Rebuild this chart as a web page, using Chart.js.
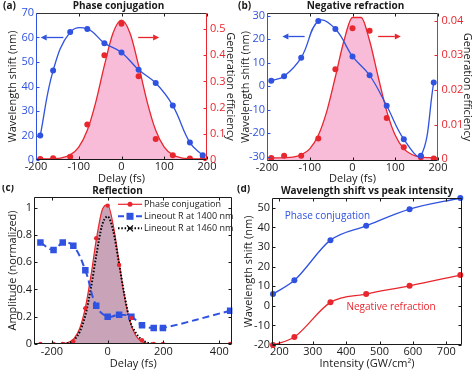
<!DOCTYPE html>
<html><head><meta charset="utf-8">
<script src="https://cdn.jsdelivr.net/npm/chart.js@4.4.1/dist/chart.umd.min.js"></script>
<style>
html,body{margin:0;padding:0;background:#fff;width:474px;height:378px;overflow:hidden}
canvas{position:absolute}
</style></head><body>
<canvas id="ca" style="left:0;top:0" width="237" height="185"></canvas>
<canvas id="cb" style="left:237px;top:0" width="237" height="185"></canvas>
<canvas id="cc" style="left:0;top:185px" width="237" height="193"></canvas>
<canvas id="cd" style="left:237px;top:185px" width="237" height="193"></canvas>
<script>
// ---------- data ----------
const delayA = [-190,-160,-120,-80,-40,0,40,80,120,160,190];
const shiftA = [20,46.5,62.2,63.5,57.7,53.9,46.8,41.4,32.2,17.1,11.9];
const effA   = [0.003,0.006,0.012,0.135,0.40,0.52,0.32,0.08,0.018,0.005,0.003];
const fitDelay = [-200,-180,-160,-140,-120,-100,-80,-60,-40,-20,0,20,40,60,80,100,120,140,160,180,200];
const fitEffA  = [0.004,0.004,0.005,0.008,0.019,0.049,0.113,0.222,0.361,0.484,0.534,0.484,0.361,0.222,0.113,0.049,0.019,0.008,0.005,0.004,0.004];

const delayB = [-190,-160,-120,-80,-40,0,40,80,120,160,190];
const shiftB = [2.3,4.2,12.1,27.7,24.3,12.6,4.6,-8.4,-22.6,-29.7,1.5];
const effB   = [0.0004,0.001,0.001,0.006,0.026,0.0378,0.0371,0.0119,0.0035,0.0006,0.0002];
const fitEffB = [0.0004,0.0004,0.00045,0.0006,0.0013,0.003,0.0069,0.0139,0.0238,0.0342,0.0409,0.0409,0.0342,0.0238,0.0139,0.0069,0.003,0.0013,0.0006,0.00045,0.0004];

const delayC  = [-241,-194,-161,-123,-80,-41,0,41,85,123,165,198,439];
const ampPC   = [0,0,0,0.02,0.263,0.776,1.015,0.58,0.19,0.027,0,0,0];
const amp1400 = [0.744,0.69,0.744,0.72,0.54,0.28,0.20,0.215,0.20,0.137,0.117,0.117,0.244];
const fitDelayC = [-264,-200,-160,-140,-120,-100,-80,-60,-40,-20,0,20,40,60,80,100,120,140,160,200,447];
const fitAmpPC  = [0,0,0.003,0.012,0.042,0.116,0.267,0.501,0.774,0.981,1.021,0.872,0.611,0.351,0.166,0.064,0.02,0.005,0.001,0,0];
const amp1460   = [0,0,0.002,0.008,0.03,0.09,0.21,0.41,0.66,0.87,0.935,0.83,0.6,0.36,0.17,0.085,0.035,0.012,0.003,0,0];

const intensity = [181,245,353,460,590,742];
const shiftPC   = [6.0,13.0,33.5,40.8,49.3,55];
const shiftNR   = [-20,-15.9,1.75,6.0,10.2,15.7];

// ---------- style ----------
const FONT = "'Open Sans','Noto Sans',sans-serif";
const BLUE = '#2f52e0', RED = '#e8262d', PINK = '#f8bcd8', MAUVE = '#c9a4b9', INK = '#1a1a1a';
const TICK = 11, LAB = 11;
const pts = (xs, ys) => xs.map((x, i) => ({x, y: ys[i]}));
const fmt = v => String(Math.round(v * 10000) / 10000);

function axis(o) {
  return {
    type: 'linear', axis: o.axis, position: o.pos, min: o.min, max: o.max,
    grid: {display: false, drawTicks: false}, border: {display: false},
    ticks: {stepSize: o.step, includeBounds: false, autoSkip: false, maxRotation: 0,
            padding: o.pad, color: o.color || INK, font: {family: FONT, size: TICK},
            callback: o.cb || fmt},
    title: o.title ? {display: true, text: o.title, color: INK, font: {family: FONT, size: LAB},
                      padding: o.tpad} : {display: false},
    afterFit: s => { if (o.pos === 'bottom') s.height = o.size; else s.width = o.size; }
  };
}

const frame = {
  id: 'frame',
  afterDatasetsDraw(chart, args, o) {
    if (!o || !o.box) return;
    const {ctx, chartArea: a, scales} = chart;
    ctx.save();
    const line = (x1, y1, x2, y2, c, w) => {
      ctx.strokeStyle = c; ctx.lineWidth = w || 1; ctx.setLineDash([]);
      ctx.beginPath(); ctx.moveTo(x1, y1); ctx.lineTo(x2, y2); ctx.stroke();
    };
    const l = Math.round(a.left) + 0.5, r = Math.round(a.right) - 0.5,
          t = Math.round(a.top) + 0.5, b = Math.round(a.bottom) - 0.5, L = 3;
    (o.ticks || []).forEach(d => {
      const s = scales[d.id];
      s.ticks.forEach(tk => {
        const p = Math.round(s.getPixelForValue(tk.value)) + 0.5;
        d.sides.forEach(side => {
          if (side === 'bottom') line(p, b, p, b - L, d.color);
          if (side === 'top') line(p, t, p, t + L, d.color);
          if (side === 'left') line(l, p, l + L, p, d.color);
          if (side === 'right') line(r, p, r - L, p, d.color);
        });
      });
    });
    const bx = o.box;
    line(l, t, r, t, bx.top); line(l, b, r, b, bx.bottom);
    line(l, t, l, b, bx.left); line(r, t, r, b, bx.right);
    // panel tag
    if (o.tag) {
      ctx.fillStyle = INK; ctx.font = "bold 10px " + FONT;
      ctx.textAlign = 'left'; ctx.textBaseline = 'middle';
      ctx.fillText(o.tag, o.tagX, o.tagY);
    }
    // arrows (data coordinates)
    (o.arrows || []).forEach(ar => {
      const xs = scales.x, ys = scales[ar.yid || 'y'];
      const X1 = xs.getPixelForValue(ar.from), X2 = xs.getPixelForValue(ar.to);
      const Y = Math.round(ys.getPixelForValue(ar.y)) + 0.5;
      const dir = Math.sign(X2 - X1), hl = 6, hw = 3;
      line(X1, Y, X2 - dir * hl, Y, ar.color, 1.3);
      ctx.fillStyle = ar.color; ctx.beginPath();
      ctx.moveTo(X2, Y); ctx.lineTo(X2 - dir * hl, Y - hw); ctx.lineTo(X2 - dir * hl, Y + hw);
      ctx.closePath(); ctx.fill();
    });
    // notes (data coordinates)
    (o.notes || []).forEach(n => {
      ctx.fillStyle = n.color; ctx.font = (n.size || 10) + "px " + FONT;
      ctx.textAlign = 'left'; ctx.textBaseline = 'middle';
      ctx.fillText(n.text, scales.x.getPixelForValue(n.x), scales.y.getPixelForValue(n.y));
    });
    // legend
    if (o.legend) {
      const g = o.legend;
      g.items.forEach((it, i) => {
        const y = g.y + i * g.dy, x = g.x;
        ctx.strokeStyle = it.color; ctx.lineWidth = it.lw; ctx.setLineDash(it.dash || []);
        ctx.beginPath(); ctx.moveTo(x, y); ctx.lineTo(x + g.len, y); ctx.stroke();
        ctx.setLineDash([]);
        const cx = x + g.len / 2;
        ctx.fillStyle = it.color;
        if (it.marker === 'circle') { ctx.beginPath(); ctx.arc(cx, y, 2.5, 0, Math.PI * 2); ctx.fill(); }
        if (it.marker === 'rect') { ctx.fillRect(cx - 3.5, y - 3.5, 7, 7); }
        if (it.marker === 'cross') {
          ctx.lineWidth = 1.2; ctx.beginPath();
          ctx.moveTo(cx - 3, y - 3); ctx.lineTo(cx + 3, y + 3);
          ctx.moveTo(cx + 3, y - 3); ctx.lineTo(cx - 3, y + 3); ctx.stroke();
        }
        ctx.fillStyle = INK; ctx.font = g.size + "px " + FONT;
        ctx.textAlign = 'left'; ctx.textBaseline = 'middle';
        ctx.fillText(it.text, x + g.len + 2, y);
      });
    }
    ctx.restore();
  }
};
Chart.register(frame);

function base(title, titleFull, titlePad, padRight, frameOpts, scales) {
  return {
    responsive: false, animation: false, events: [],
    layout: {padding: {left: 0, right: padRight, top: 0, bottom: 0}},
    plugins: {
      legend: {display: false}, tooltip: {enabled: false},
      title: {display: true, text: title, color: INK, fullSize: titleFull,
              font: {family: FONT, size: 10, weight: 'bold', lineHeight: 1.2},
              padding: {top: 0, bottom: titlePad}},
      frame: frameOpts
    },
    scales
  };
}

// ---------- (a) ----------
new Chart(document.getElementById('ca'), {
  type: 'line',
  data: {datasets: [
    {data: pts(delayA, shiftA), yAxisID: 'y', borderColor: BLUE, backgroundColor: BLUE,
     borderWidth: 1.3, pointRadius: 3, pointBorderWidth: 0, tension: 0.4},
    {data: pts(delayA, effA), yAxisID: 'y1', showLine: false, borderColor: RED,
     backgroundColor: RED, pointRadius: 3, pointBorderWidth: 0},
    {data: pts(fitDelay, fitEffA), yAxisID: 'y1', borderColor: RED, borderWidth: 1.3,
     pointRadius: 0, fill: 'start', backgroundColor: PINK, cubicInterpolationMode: 'monotone'}
  ]},
  options: base('Phase conjugation', true, 1, 0, {
    box: {top: '#333', bottom: INK, left: BLUE, right: RED},
    ticks: [{id: 'x', sides: ['bottom', 'top'], color: INK},
            {id: 'y', sides: ['left'], color: BLUE},
            {id: 'y1', sides: ['right'], color: RED}],
    tag: '(a)', tagX: 3, tagY: 6,
    arrows: [{from: -136, to: -189, y: 60, color: BLUE}, {from: 39, to: 88, y: 60, color: RED}]
  }, {
    x: axis({axis: 'x', pos: 'bottom', min: -200, max: 200, step: 100, pad: 0, size: 25,
             title: 'Delay (fs)', tpad: {top: 0, bottom: 0}}),
    y: axis({axis: 'y', pos: 'left', min: 10, max: 70, step: 10, pad: 2, size: 36, color: BLUE,
             cb: v => (v === 10 ? '0' : String(v)),
             title: 'Wavelength shift (nm)', tpad: {top: 6, bottom: 0}}),
    y1: axis({axis: 'y', pos: 'right', min: -0.0004, max: 0.5615, step: 0.1, pad: 3, size: 30, color: RED,
              title: 'Generation efficiency', tpad: {top: 0, bottom: 0}})
  })
});

// ---------- (b) ----------
new Chart(document.getElementById('cb'), {
  type: 'line',
  data: {datasets: [
    {data: pts(delayB, shiftB), yAxisID: 'y', borderColor: BLUE, backgroundColor: BLUE,
     borderWidth: 1.3, pointRadius: 3, pointBorderWidth: 0, tension: 0.4},
    {data: pts(delayB, effB), yAxisID: 'y1', showLine: false, borderColor: RED,
     backgroundColor: RED, pointRadius: 3, pointBorderWidth: 0},
    {data: pts(fitDelay, fitEffB), yAxisID: 'y1', borderColor: RED, borderWidth: 1.3,
     pointRadius: 0, fill: 'start', backgroundColor: PINK, cubicInterpolationMode: 'monotone'}
  ]},
  options: base('Negative refraction', true, 1, 0, {
    box: {top: '#333', bottom: INK, left: BLUE, right: RED},
    ticks: [{id: 'x', sides: ['bottom', 'top'], color: INK},
            {id: 'y', sides: ['left'], color: BLUE},
            {id: 'y1', sides: ['right'], color: RED}],
    tag: '(b)', tagX: 1, tagY: 6,
    arrows: [{from: -112, to: -164, y: 21.2, color: BLUE}, {from: 60, to: 113, y: 21.2, color: RED}]
  }, {
    x: axis({axis: 'x', pos: 'bottom', min: -200, max: 200, step: 100, pad: 0, size: 24,
             title: 'Delay (fs)', tpad: {top: 0, bottom: 0}}),
    y: axis({axis: 'y', pos: 'left', min: -31.9, max: 31.1, step: 10, pad: 2, size: 30, color: BLUE,
             title: 'Wavelength shift (nm)', tpad: {top: 2.7, bottom: 0}}),
    y1: axis({axis: 'y', pos: 'right', min: -0.0005, max: 0.0422, step: 0.01, pad: 3.5, size: 36, color: RED,
              title: 'Generation efficiency', tpad: {top: 0.7, bottom: 0}})
  })
});

// ---------- (c) ----------
new Chart(document.getElementById('cc'), {
  type: 'line',
  data: {datasets: [
    {data: pts(delayC, ampPC), showLine: false, borderColor: RED, backgroundColor: RED,
     pointRadius: 2.2, pointBorderWidth: 0},
    {data: pts(delayC, amp1400), borderColor: BLUE, backgroundColor: BLUE, borderWidth: 2,
     borderDash: [7, 4], pointStyle: 'rect', pointRadius: 4.6, pointBorderWidth: 0, tension: 0.4},
    {data: pts(fitDelayC, amp1460), borderColor: '#000', borderWidth: 2, borderDash: [1.5, 1.8],
     pointRadius: 0, cubicInterpolationMode: 'monotone'},
    {data: pts(fitDelayC, fitAmpPC), borderColor: RED, borderWidth: 1.2, pointRadius: 0,
     fill: 'start', backgroundColor: MAUVE, cubicInterpolationMode: 'monotone'}
  ]},
  options: base('Reflection', true, 0, 2, {
    box: {top: INK, bottom: INK, left: INK, right: INK},
    ticks: [{id: 'x', sides: ['bottom', 'top'], color: INK},
            {id: 'y', sides: ['left', 'right'], color: INK}],
    tag: '(c)', tagX: 2, tagY: 3,
    legend: {x: 118, y: 19.3, dy: 12, len: 24, size: 9, items: [
      {text: 'Phase conjugation', color: RED, lw: 1.2, marker: 'circle'},
      {text: 'Lineout R at 1400 nm', color: BLUE, lw: 2, dash: [6, 3], marker: 'rect'},
      {text: 'Lineout R at 1460 nm', color: '#000', lw: 2, dash: [1.5, 1.8], marker: 'cross'}
    ]}
  }, {
    x: axis({axis: 'x', pos: 'bottom', min: -264, max: 447, step: 200, pad: 1, size: 34,
             title: 'Delay (fs)', tpad: {top: 0, bottom: 7.4}}),
    y: axis({axis: 'y', pos: 'left', min: 0, max: 1.078, step: 0.2, pad: 2, size: 34,
             title: 'Amplitude (normalized)', tpad: {top: 6, bottom: 0}})
  })
});

// ---------- (d) ----------
new Chart(document.getElementById('cd'), {
  type: 'line',
  data: {datasets: [
    {data: pts(intensity, shiftPC), borderColor: BLUE, backgroundColor: BLUE, borderWidth: 1.3,
     pointRadius: 3, pointBorderWidth: 0, cubicInterpolationMode: 'monotone', clip: false},
    {data: pts(intensity, shiftNR), borderColor: RED, backgroundColor: RED, borderWidth: 1.3,
     pointRadius: 3, pointBorderWidth: 0, cubicInterpolationMode: 'monotone', clip: false}
  ]},
  options: base('Wavelength shift vs peak intensity', false, 1, 12, {
    box: {top: INK, bottom: INK, left: INK, right: INK},
    ticks: [{id: 'x', sides: ['bottom', 'top'], color: INK},
            {id: 'y', sides: ['left', 'right'], color: INK}],
    tag: '(d)', tagX: 0, tagY: 4,
    notes: [{text: 'Phase conjugation', x: 216, y: 45.5, color: BLUE, size: 10},
            {text: 'Negative refraction', x: 401, y: -0.5, color: RED, size: 10}]
  }, {
    x: axis({axis: 'x', pos: 'bottom', min: 178, max: 747, step: 100, pad: 0, size: 33,
             title: 'Intensity (GW/cm²)', tpad: {top: 0, bottom: 7.4}}),
    y: axis({axis: 'y', pos: 'left', min: -20, max: 55, step: 10, pad: 2, size: 35,
             title: 'Wavelength shift (nm)', tpad: {top: 5.4, bottom: 0}})
  })
});
</script>
</body></html>
